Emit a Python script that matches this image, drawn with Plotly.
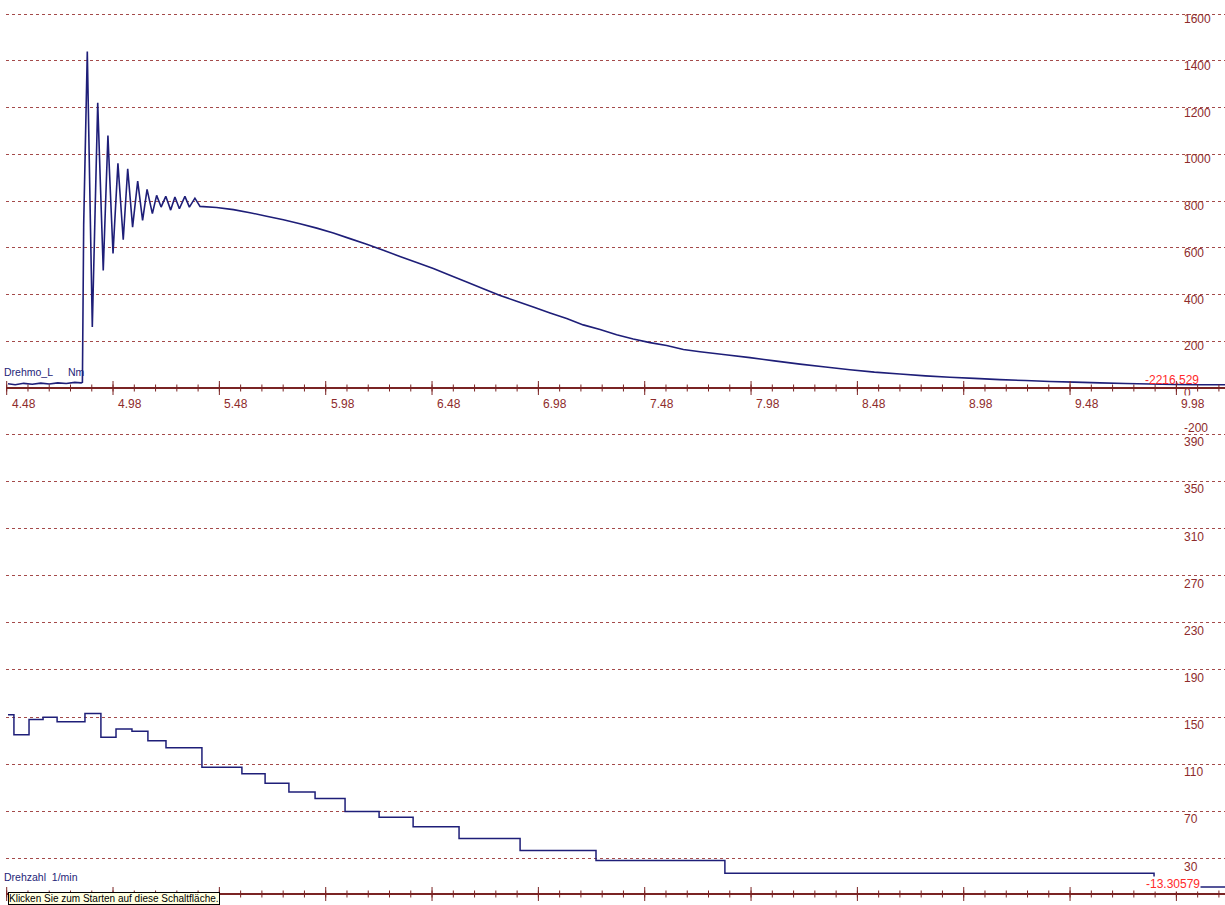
import numpy as np
import plotly.graph_objects as go

# ---------------- data ----------------
# Torque channel "Drehmo_L" [Nm] over time [s]
torque_t = [4.486, 4.52, 4.56, 4.60, 4.64, 4.68, 4.72, 4.76, 4.80, 4.83, 4.836,
            4.842, 4.859, 4.8825, 4.908, 4.934, 4.956, 4.980, 5.003, 5.028, 5.049,
            5.072, 5.096, 5.119, 5.140, 5.165, 5.185, 5.206, 5.228, 5.251, 5.271,
            5.292, 5.318, 5.339, 5.365, 5.389, 5.467, 5.546, 5.624, 5.702, 5.781,
            5.859, 5.938, 6.016, 6.094, 6.173, 6.251, 6.329, 6.408, 6.486, 6.564,
            6.643, 6.721, 6.800, 6.878, 6.956, 7.035, 7.113, 7.191, 7.270, 7.348,
            7.426, 7.505, 7.583, 7.662, 7.740, 7.86, 7.975, 8.09, 8.21, 8.33,
            8.445, 8.56, 8.68, 8.80, 8.915, 9.03, 9.15, 9.27, 9.385, 9.50,
            9.62, 9.74, 9.856, 9.97, 10.09, 10.21]
torque_v = [18, 14, 20, 16, 21, 17, 22, 19, 24, 22, 25,
            700, 1440, 261, 1220, 503, 1080, 576, 961, 634, 938,
            688, 885, 717, 850, 746, 824, 774, 820, 761, 817,
            767, 820, 774, 812, 777, 772, 763, 750, 735, 720,
            703, 684, 663, 639, 615, 589, 563, 537, 511, 482,
            453, 425, 396, 371, 346, 321, 297, 270, 250, 228,
            210, 194, 182, 165, 155, 142, 130, 116, 102, 90,
            78, 68, 60, 52, 46, 41, 36, 32, 28, 25,
            22, 19, 17, 15, 14, 14]

# Speed channel "Drehzahl" [1/min] (stepped signal)
speed_t = [4.486, 4.514, 4.585, 4.651, 4.717, 4.848, 4.923, 4.994, 5.069, 5.144,
           5.229, 5.398, 5.586, 5.695, 5.807, 5.930, 6.071, 6.231, 6.391, 6.607,
           6.894, 7.251, 7.857, 9.875, 10.21]
speed_v = [152, 135, 148, 150, 146, 153, 133, 140, 138, 130,
           124, 107.5, 102, 94, 86.5, 81, 70, 65, 57, 47,
           37, 28.5, 17.5, 6, 6]

# axis ticks / labels
x_major = [4.48, 4.98, 5.48, 5.98, 6.48, 6.98, 7.48, 7.98, 8.48, 8.98, 9.48, 9.98]
x_labels = ["4.48", "4.98", "5.48", "5.98", "6.48", "6.98", "7.48", "7.98",
            "8.48", "8.98", "9.48", "9.98"]
torque_grid = [1600, 1400, 1200, 1000, 800, 600, 400, 200]
torque_labels = ["1600", "1400", "1200", "1000", "800", "600", "400", "200", "0", "-200"]
torque_label_vals = [1600, 1400, 1200, 1000, 800, 600, 400, 200, 0, -200]
speed_grid = [390, 350, 310, 270, 230, 190, 150, 110, 70, 30]
speed_labels = ["390", "350", "310", "270", "230", "190", "150", "110", "70", "30", "-10"]
speed_label_vals = [390, 350, 310, 270, 230, 190, 150, 110, 70, 30, -10]

# ---------------- layout geometry ----------------
W, H, L = 1225, 905, 6
PX_PER_S = 212.67
T_REF, T_REF_PX = 4.48, 6.7
x_range = [T_REF + (L - T_REF_PX) / PX_PER_S, T_REF + (W - T_REF_PX) / PX_PER_S]

TOP_ZERO_PX, TOP_PPU = 388, 0.23375
BOT_ZERO_PX, BOT_PPU = 894, 1.179
y_range = [-(H - TOP_ZERO_PX) / TOP_PPU, TOP_ZERO_PX / TOP_PPU]
y2_range = [-(H - BOT_ZERO_PX) / BOT_PPU, BOT_ZERO_PX / BOT_PPU]


def pxx(px):
    return (px - L) / (W - L)


def pxy(py):
    return 1 - py / H


LINE = "#1e1e78"
AXIS = "#7a2424"
GRID = "#a44a4a"
LBL = "#8e2b2b"
FONT = "Liberation Sans Narrow, Liberation Sans, Arial, sans-serif"
SANS = "Liberation Sans, Arial, sans-serif"

fig = go.Figure()
fig.add_trace(go.Scatter(x=torque_t, y=torque_v, mode="lines", yaxis="y",
                         line=dict(color=LINE, width=1.6, simplify=False),
                         hoverinfo="skip"))
fig.add_trace(go.Scatter(x=speed_t, y=speed_v, mode="lines", yaxis="y2",
                         line=dict(color=LINE, width=1.5, shape="hv"), hoverinfo="skip"))

# crossing tick marks on both time axes
minor = np.round(np.arange(4.48, x_range[1], 0.1), 2)
for yax in ("y", "y2"):
    fig.add_trace(go.Scatter(x=minor, y=[0] * len(minor), mode="markers", yaxis=yax,
                             marker=dict(symbol="line-ns", size=5, color=AXIS,
                                         line=dict(width=1, color=AXIS)),
                             cliponaxis=False, hoverinfo="skip"))
    fig.add_trace(go.Scatter(x=x_major, y=[0] * len(x_major), mode="markers", yaxis=yax,
                             marker=dict(symbol="line-ns", size=10, color=AXIS,
                                         line=dict(width=1, color=AXIS)),
                             cliponaxis=False, hoverinfo="skip"))

ann = []
# right-hand value labels, torque
for v, t in zip(torque_label_vals, torque_labels):
    sh = 7 if v < 0 else -5
    ann.append(dict(x=pxx(1182), xref="paper", xanchor="left", y=v, yref="y",
                    yanchor="middle", yshift=sh, text=t, showarrow=False,
                    font=dict(family=FONT, size=12, color=LBL)))
# right-hand value labels, speed
for v, t in zip(speed_label_vals, speed_labels):
    sh = 4 if v < 0 else -8
    ann.append(dict(x=pxx(1182), xref="paper", xanchor="left", y=v, yref="y2",
                    yanchor="middle", yshift=sh, text=t, showarrow=False,
                    font=dict(family=FONT, size=12, color=LBL)))
# time labels under the torque axis
for v, t in zip(x_major, x_labels):
    ann.append(dict(x=v, xref="x", xanchor="left", xshift=3, y=0, yref="y",
                    yanchor="middle", yshift=-16, text=t, showarrow=False,
                    bgcolor="white" if t == "9.98" else None,
                    font=dict(family=FONT, size=12, color=LBL)))
# channel names
ann.append(dict(x=pxx(1.5), xref="paper", xanchor="left", y=pxy(372), yref="paper",
                yanchor="middle", text="Drehmo_L", showarrow=False,
                font=dict(family=SANS, size=10.5, color=LINE)))
ann.append(dict(x=pxx(66), xref="paper", xanchor="left", y=pxy(372), yref="paper",
                yanchor="middle", text="Nm", showarrow=False,
                font=dict(family=SANS, size=10.5, color=LINE)))
ann.append(dict(x=pxx(1.5), xref="paper", xanchor="left", y=pxy(877), yref="paper",
                yanchor="middle", text="Drehzahl  1/min", showarrow=False,
                font=dict(family=SANS, size=10.5, color=LINE)))
# cursor values
ann.append(dict(x=pxx(1143), xref="paper", xanchor="left", y=pxy(380), yref="paper",
                yanchor="middle", text="-2216.529", showarrow=False,
                font=dict(family=SANS, size=12, color="#ff2a2a")))
ann.append(dict(x=pxx(1145), xref="paper", xanchor="left", y=pxy(884), yref="paper",
                yanchor="middle", text="-13.30579", showarrow=False, bgcolor="white",
                borderpad=0,
                font=dict(family=SANS, size=12, color="#ff2a2a")))
# tooltip
ann.append(dict(x=pxx(8), xref="paper", xanchor="left", y=pxy(892), yref="paper",
                yanchor="top", text="Klicken Sie zum Starten auf diese Schaltfläche.",
                showarrow=False, bgcolor="#ffffe1", bordercolor="#000000",
                borderwidth=1, borderpad=0,
                font=dict(family=SANS, size=10, color="#000000")))

fig.update_layout(
    width=W, height=H,
    margin=dict(l=L, r=0, t=0, b=0),
    paper_bgcolor="white", plot_bgcolor="white",
    showlegend=False,
    xaxis=dict(range=x_range, visible=False, fixedrange=True),
    yaxis=dict(range=y_range, tickvals=torque_grid, showticklabels=False, ticks="",
               showgrid=True, gridcolor=GRID, gridwidth=1, griddash="3px,3px",
               zeroline=True, zerolinecolor=AXIS, zerolinewidth=1.6,
               showline=False, fixedrange=True),
    yaxis2=dict(range=y2_range, overlaying="y", tickvals=speed_grid, showticklabels=False,
                ticks="", showgrid=True, gridcolor=GRID, gridwidth=1, griddash="3px,3px",
                zeroline=True, zerolinecolor=AXIS, zerolinewidth=1.6,
                showline=False, fixedrange=True),
    annotations=ann,
)

fig.write_html("out.html")
